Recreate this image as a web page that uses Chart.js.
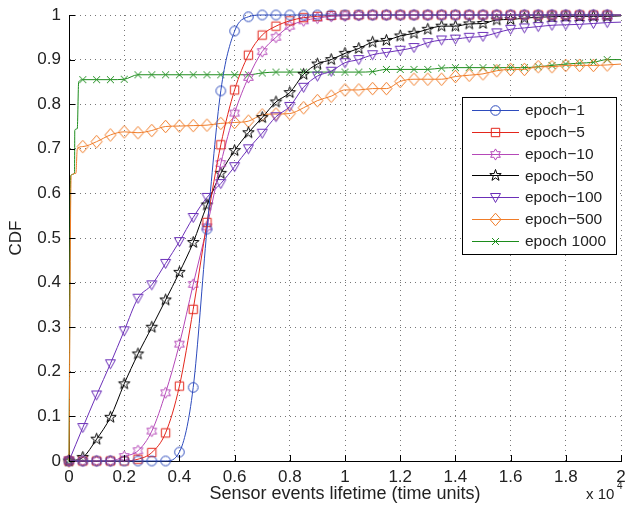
<!DOCTYPE html>
<html>
<head>
<meta charset="utf-8">
<script src="https://cdn.jsdelivr.net/npm/chart.js@4.4.1/dist/chart.umd.min.js"></script>
<style>
  html, body { margin: 0; padding: 0; background: #fff; }
  #cdf { display: block; }
</style>
</head>
<body>
<canvas id="cdf" width="627" height="514"></canvas>
<script>
// sensor event lifetime, time units (markers every 500)
var lifetime = [0,500,1000,1500,2000,2500,3000,3500,4000,4500,5000,5500,6000,6500,7000,7500,8000,8500,9000,9500,
  10000,10500,11000,11500,12000,12500,13000,13500,14000,14500,15000,15500,16000,16500,17000,17500,18000,18500,19000,19500,20000];

var cdfEpoch1 = [0,0,0,0,0,0,0,0,0.02,0.165,0.52,0.83,0.964,0.996,1,1,1,1,1,1,
  1,1,1,1,1,1,1,1,1,1,1,1,1,1,1,1,1,1,1,1,1];
var cdfEpoch5 = [0,0,0,0,0,0.004,0.019,0.063,0.168,0.34,0.535,0.709,0.832,0.91,0.955,0.975,0.987,0.994,0.997,0.999,
  1,1,1,1,1,1,1,1,1,1,1,1,1,1,1,1,1,1,1,1,1];
var cdfEpoch10 = [0,0,0,0,0.01,0.023,0.067,0.153,0.262,0.396,0.525,0.667,0.78,0.86,0.918,0.95,0.975,0.987,0.993,0.997,
  0.998,0.999,1,1,1,1,1,1,1,1,1,1,1,1,1,1,1,1,1,1,1];
var cdfEpoch50 = [0,0.008,0.049,0.098,0.173,0.24,0.30,0.361,0.423,0.49,0.574,0.645,0.696,0.736,0.77,0.805,0.826,0.867,0.89,0.90,
  0.914,0.925,0.939,0.943,0.953,0.959,0.968,0.975,0.975,0.98,0.981,0.989,0.99,0.993,0.995,0.996,0.997,0.997,0.997,0.997,0.998];
var cdfEpoch100 = [0,0.075,0.148,0.218,0.292,0.365,0.395,0.443,0.492,0.546,0.591,0.622,0.66,0.70,0.735,0.772,0.795,0.838,0.863,0.874,
  0.893,0.90,0.911,0.916,0.921,0.927,0.938,0.944,0.946,0.95,0.952,0.96,0.968,0.971,0.974,0.977,0.978,0.979,0.981,0.983,0.984];
var cdfEpoch500 = [0,0.705,0.716,0.731,0.738,0.736,0.741,0.75,0.751,0.752,0.753,0.757,0.759,0.762,0.776,0.778,0.779,0.792,0.808,0.818,
  0.832,0.832,0.835,0.835,0.851,0.856,0.856,0.856,0.862,0.865,0.868,0.875,0.878,0.878,0.884,0.884,0.887,0.887,0.887,0.888,0.89];
var cdfEpoch1000 = [0,0.855,0.855,0.855,0.856,0.866,0.866,0.866,0.866,0.866,0.866,0.866,0.866,0.866,0.87,0.872,0.872,0.872,0.872,0.872,
  0.872,0.872,0.873,0.878,0.878,0.878,0.878,0.881,0.882,0.882,0.882,0.882,0.882,0.882,0.884,0.887,0.89,0.892,0.894,0.9,0.9];

// steep start of the two long-epoch curves (between 0 and 500)
var riseX500 = [80,250,300];
var riseY500 = [0.64,0.645,0.70];
var riseX1000 = [60,200,210,300,350];
var riseY1000 = [0.64,0.645,0.742,0.745,0.85];

var seriesNames = ['epoch\u22121','epoch\u22125','epoch\u221210','epoch\u221250','epoch\u2212100','epoch\u2212500','epoch 1000'];
var xTicks = [0,2000,4000,6000,8000,10000,12000,14000,16000,18000,20000];

var FONT = '"Liberation Sans", Arial, Helvetica, sans-serif';

function toPoints(ys, extraX, extraY) {
  var pts = [];
  for (var i = 0; i < lifetime.length; i++) pts.push({x: lifetime[i], y: ys[i]});
  if (extraX) {
    for (var j = 0; j < extraX.length; j++) pts.push({x: extraX[j], y: extraY[j]});
    pts.sort(function(a, b) { return a.x - b.x; });
  }
  return pts;
}

function makeMarker(shape, color) {
  var c = document.createElement('canvas');
  c.width = 17; c.height = 17;
  var g = c.getContext('2d');
  g.translate(8.5, 8.5);
  g.strokeStyle = color;
  g.lineWidth = 1;
  g.beginPath();
  var k, a, r;
  if (shape == 'circle') {
    g.arc(0, 0, 4.8, 0, Math.PI * 2);
  } else if (shape == 'square') {
    g.rect(-4.2, -4.2, 8.4, 8.4);
  } else if (shape == 'hexagram') {
    for (k = 0; k < 12; k++) {
      a = -Math.PI / 2 + k * Math.PI / 6;
      r = (k % 2 == 0) ? 5.6 : 3.2;
      if (k == 0) g.moveTo(r * Math.cos(a), r * Math.sin(a)); else g.lineTo(r * Math.cos(a), r * Math.sin(a));
    }
    g.closePath();
  } else if (shape == 'pentagram') {
    for (k = 0; k < 10; k++) {
      a = -Math.PI / 2 + k * Math.PI / 5;
      r = (k % 2 == 0) ? 6 : 2.4;
      if (k == 0) g.moveTo(r * Math.cos(a), r * Math.sin(a)); else g.lineTo(r * Math.cos(a), r * Math.sin(a));
    }
    g.closePath();
  } else if (shape == 'triangleDown') {
    g.moveTo(-5, -4); g.lineTo(5, -4); g.lineTo(0, 5); g.closePath();
  } else if (shape == 'diamond') {
    g.moveTo(0, -6.3); g.lineTo(5.5, 0); g.lineTo(0, 6.3); g.lineTo(-5.5, 0); g.closePath();
  } else if (shape == 'x') {
    g.moveTo(-3.5, -3.5); g.lineTo(3.5, 3.5);
    g.moveTo(-3.5, 3.5); g.lineTo(3.5, -3.5);
  }
  g.stroke();
  return c;
}

var colors = ['#2d4bbd', '#e3261c', '#b548b8', '#000000', '#6b2fb8', '#f07c28', '#1c8c1c'];
var shapes = ['circle', 'square', 'hexagram', 'pentagram', 'triangleDown', 'diamond', 'x'];
var markers = shapes.map(function(s, i) { return makeMarker(s, colors[i]); });

var seriesData = [
  toPoints(cdfEpoch1),
  toPoints(cdfEpoch5),
  toPoints(cdfEpoch10),
  toPoints(cdfEpoch50),
  toPoints(cdfEpoch100),
  toPoints(cdfEpoch500, riseX500, riseY500),
  toPoints(cdfEpoch1000, riseX1000, riseY1000)
];

function markerRadius(c) {
  var x = c.raw ? c.raw.x : -1;
  return (x % 500 === 0 && x < 20000) ? 5 : 0;
}

var datasets = seriesData.map(function(pts, i) {
  return {
    label: seriesNames[i],
    data: pts,
    borderColor: colors[i],
    backgroundColor: colors[i],
    borderWidth: 1,
    pointStyle: markers[i],
    pointRadius: markerRadius,
    pointHoverRadius: markerRadius,
    cubicInterpolationMode: 'monotone',
    clip: false
  };
});

var matlabBits = {
  id: 'matlabBits',
  afterDraw: function(chart) {
    var ctx = chart.ctx, a = chart.chartArea;
    var xs = chart.scales.x, ys = chart.scales.y;
    ctx.save();
    // inward ticks
    ctx.strokeStyle = '#000';
    ctx.lineWidth = 1;
    ctx.beginPath();
    ys.ticks.forEach(function(t) {
      var y = Math.round(ys.getPixelForValue(t.value)) + 0.5;
      ctx.moveTo(a.left, y); ctx.lineTo(a.left + 6, y);
    });
    xs.ticks.forEach(function(t) {
      var x = Math.round(xs.getPixelForValue(t.value)) + 0.5;
      ctx.moveTo(x, a.bottom); ctx.lineTo(x, a.bottom - 6);
    });
    ctx.stroke();

    // axis exponent
    ctx.fillStyle = '#222';
    ctx.textBaseline = 'alphabetic';
    ctx.textAlign = 'left';
    ctx.font = '15px ' + FONT;
    ctx.fillText('x 10', 586, 499);
    ctx.font = '10px ' + FONT;
    ctx.fillText('4', 617, 489);

    // legend box
    var bx = 462.5, by = 97.5, bw = 154, bh = 157;
    ctx.fillStyle = '#fff';
    ctx.fillRect(bx, by, bw, bh);
    ctx.strokeStyle = '#000';
    ctx.strokeRect(bx, by, bw, bh);
    ctx.font = '15.5px ' + FONT;
    ctx.textBaseline = 'middle';
    for (var i = 0; i < seriesNames.length; i++) {
      var cy = 110 + i * 21.8;
      ctx.strokeStyle = colors[i];
      ctx.beginPath();
      ctx.moveTo(472, Math.round(cy) + 0.5);
      ctx.lineTo(519, Math.round(cy) + 0.5);
      ctx.stroke();
      ctx.drawImage(markers[i], 495.5 - 8.5, Math.round(cy) + 0.5 - 8.5);
      ctx.fillStyle = '#222';
      ctx.fillText(seriesNames[i], 525, cy + 1);
    }
    ctx.restore();
  }
};

new Chart(document.getElementById('cdf'), {
  type: 'line',
  data: { datasets: datasets },
  options: {
    responsive: false,
    animation: false,
    devicePixelRatio: 1,
    layout: { padding: { top: 15, right: 5, left: 0, bottom: 0 } },
    plugins: { legend: { display: false }, tooltip: { enabled: false } },
    scales: {
      x: {
        type: 'linear',
        min: 0,
        max: 20000,
        afterBuildTicks: function(s) { s.ticks = xTicks.map(function(v) { return {value: v}; }); },
        afterFit: function(s) { s.height = 53; s.paddingLeft = 0; s.paddingRight = 0; },
        ticks: {
          autoSkip: false,
          maxRotation: 0,
          padding: 6,
          color: '#222',
          font: { family: FONT, size: 17 },
          callback: function(v) { return String(Math.round(v / 1000) / 10); }
        },
        grid: { color: '#777', drawTicks: false },
        border: { display: true, color: '#000', width: 1, dash: [1, 4] },
        title: {
          display: true,
          text: 'Sensor events lifetime (time units)',
          color: '#222',
          font: { family: FONT, size: 18 },
          padding: { top: 0, bottom: 9 }
        }
      },
      y: {
        min: 0,
        max: 1,
        afterFit: function(s) { s.width = 69; s.paddingTop = 0; s.paddingBottom = 0; },
        ticks: {
          stepSize: 0.1,
          padding: 8,
          color: '#222',
          font: { family: FONT, size: 17 },
          callback: function(v) { return String(Math.round(v * 10) / 10); }
        },
        grid: { color: '#777', drawTicks: false },
        border: { display: true, color: '#000', width: 1, dash: [1, 4] },
        title: {
          display: true,
          text: 'CDF',
          color: '#222',
          font: { family: FONT, size: 17 },
          padding: { top: 6, bottom: 0 }
        }
      }
    }
  },
  plugins: [matlabBits]
});
</script>
</body>
</html>
